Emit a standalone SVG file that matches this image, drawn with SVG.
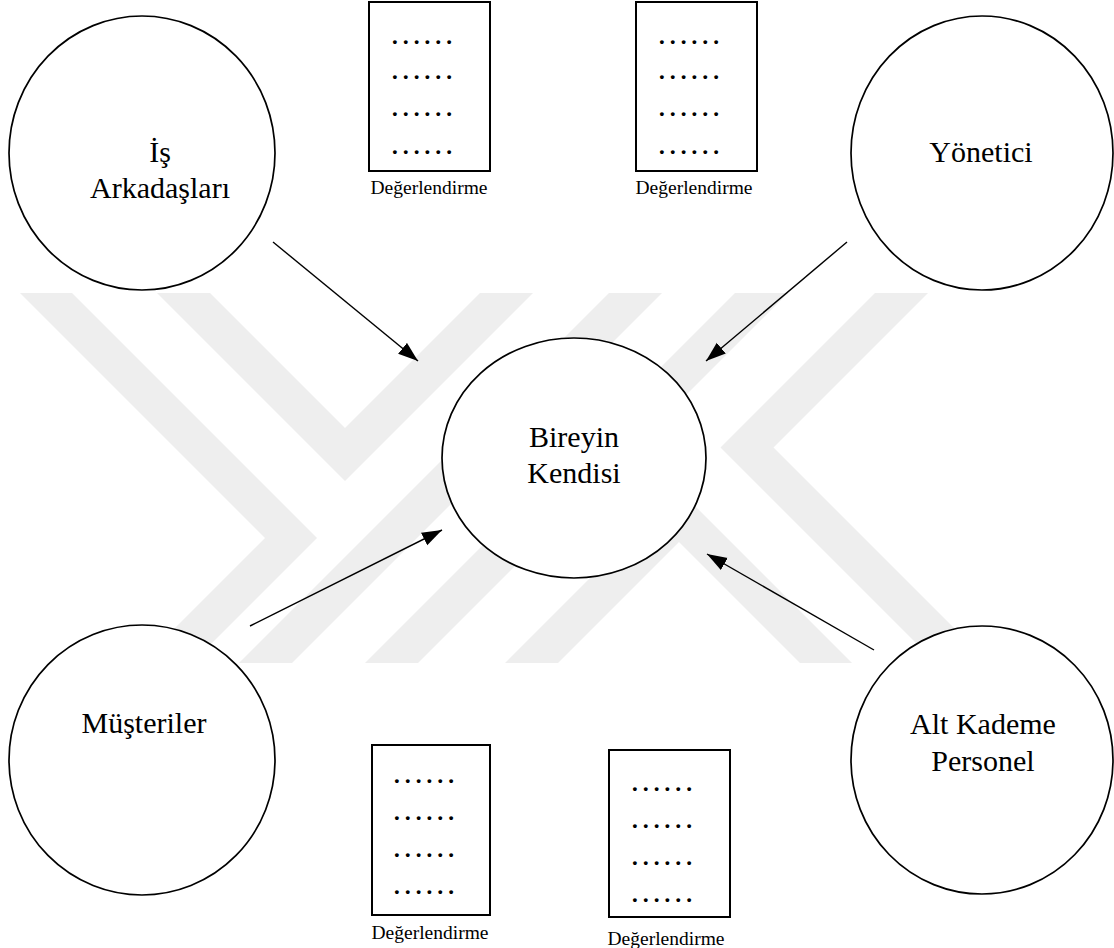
<svg xmlns="http://www.w3.org/2000/svg" width="1114" height="948" viewBox="0 0 1114 948">
  <style>
    .wm { fill: #eeeeee; stroke: none; }
    .node { fill: #ffffff; stroke: #000000; stroke-width: 1.7; }
    .box { fill: #ffffff; stroke: #000000; stroke-width: 2; }
    .lbl { font-family: "Liberation Serif", "Times New Roman", serif; font-size: 30px; fill: #000000; text-anchor: middle; }
    .cap { font-family: "Liberation Serif", "Times New Roman", serif; font-size: 19.5px; fill: #000000; text-anchor: middle; }
    .dots { font-family: "Liberation Serif", "Times New Roman", serif; font-size: 32.5px; fill: #000000; text-anchor: middle; }
    .conn { stroke: #000000; stroke-width: 1.4; fill: none; marker-end: url(#arrow); }
  </style>
  <defs>
    <marker id="arrow" markerUnits="userSpaceOnUse" markerWidth="21" markerHeight="15" refX="20" refY="7" orient="auto">
      <path d="M0,0 L20,7 L0,14 Z" fill="#000000"/>
    </marker>
  </defs>
  <rect x="0" y="0" width="1114" height="948" fill="#ffffff"/>

  <g id="watermark">
    <polygon class="wm" points="20,293 72,293 317,538 192,663 140,663 265,538"/>
    <polygon class="wm" points="157,293 210,293 345,428 480,293 533,293 345,481"/>
    <polygon class="wm" points="609,293 662,293 292,663 239,663"/>
    <polygon class="wm" points="735,293 788,293 418,663 365,663"/>
    <polygon class="wm" points="875,293 928,293 773.5,447.5 989,663 936,663 720.5,447.5"/>
    <polygon class="wm" points="505,663 558,663 679,542 800,663 852,663 678.5,489.5"/>
  </g>

  <g id="connectors">
    <path class="conn" d="M273,242 L418,361"/>
    <path class="conn" d="M847,242 L706,361"/>
    <path class="conn" d="M250,626 L442,530"/>
    <path class="conn" d="M874,650 L707,554"/>
  </g>

  <g id="node-is-arkadaslari">
    <ellipse class="node" cx="142" cy="153" rx="133" ry="137"/>
    <text class="lbl" x="160" y="162">İş</text>
    <text class="lbl" x="160" y="198">Arkadaşları</text>
  </g>

  <g id="node-yonetici">
    <ellipse class="node" cx="982" cy="153" rx="131" ry="137"/>
    <text class="lbl" x="981" y="162">Yönetici</text>
  </g>

  <g id="node-bireyin-kendisi">
    <ellipse class="node" cx="574" cy="458" rx="132" ry="120"/>
    <text class="lbl" x="574" y="447">Bireyin</text>
    <text class="lbl" x="574" y="483">Kendisi</text>
  </g>

  <g id="node-musteriler">
    <ellipse class="node" cx="142" cy="760" rx="133" ry="135"/>
    <text class="lbl" x="144" y="733">Müşteriler</text>
  </g>

  <g id="node-alt-kademe">
    <ellipse class="node" cx="982" cy="760" rx="131" ry="134"/>
    <text class="lbl" x="983" y="734">Alt Kademe</text>
    <text class="lbl" x="983" y="771">Personel</text>
  </g>

  <g id="eval-top-left">
    <rect class="box" x="369" y="2" width="121" height="169"/>
    <text class="dots" x="422" y="44">……</text>
    <text class="dots" x="422" y="79">……</text>
    <text class="dots" x="422" y="116">……</text>
    <text class="dots" x="422" y="154">……</text>
    <text class="cap" x="429" y="194">Değerlendirme</text>
  </g>

  <g id="eval-top-right">
    <rect class="box" x="636" y="2" width="121" height="169"/>
    <text class="dots" x="689" y="44">……</text>
    <text class="dots" x="689" y="79">……</text>
    <text class="dots" x="689" y="116">……</text>
    <text class="dots" x="689" y="154">……</text>
    <text class="cap" x="694" y="194">Değerlendirme</text>
  </g>

  <g id="eval-bottom-left">
    <rect class="box" x="372" y="745" width="118" height="170"/>
    <text class="dots" x="424" y="783">……</text>
    <text class="dots" x="424" y="820">……</text>
    <text class="dots" x="424" y="857">……</text>
    <text class="dots" x="424" y="894">……</text>
    <text class="cap" x="430" y="939">Değerlendirme</text>
  </g>

  <g id="eval-bottom-right">
    <rect class="box" x="609" y="750" width="121" height="167"/>
    <text class="dots" x="662" y="791">……</text>
    <text class="dots" x="662" y="828">……</text>
    <text class="dots" x="662" y="865">……</text>
    <text class="dots" x="662" y="902">……</text>
    <text class="cap" x="666" y="945">Değerlendirme</text>
  </g>
</svg>
